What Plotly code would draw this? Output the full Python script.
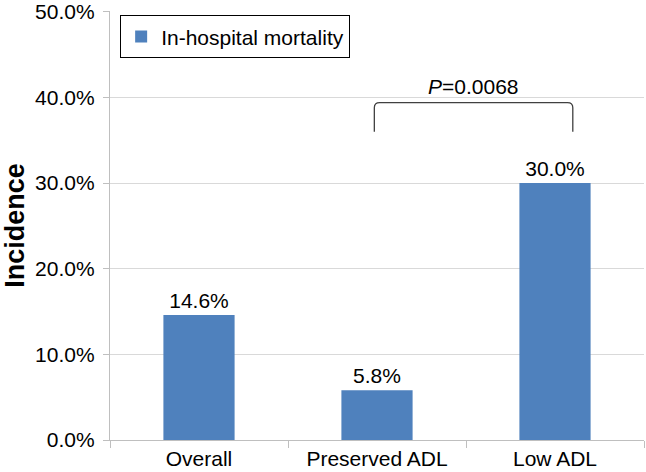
import plotly.graph_objects as go

categories = ["Overall", "Preserved ADL", "Low ADL"]
mortality = [14.6, 5.8, 30.0]
y_ticks = [0, 10, 20, 30, 40, 50]
y_tick_labels = [f"{v:.1f}%" for v in y_ticks]
series_name = "In-hospital mortality"
p_label = "<i>P</i>=0.0068"

FONT = "Liberation Sans, Arial, sans-serif"
BAR = "#4F81BD"
FS = 21

fig = go.Figure()
fig.add_trace(go.Bar(
    x=categories, y=mortality, name=series_name,
    marker=dict(color=BAR, line=dict(width=0)),
    texttemplate="%{y:.1f}%", textposition="outside",
    textfont=dict(size=FS, color="#000", family=FONT),
    cliponaxis=False, showlegend=True,
))

# significance bracket between Preserved ADL and Low ADL
bx0, bx1 = 0.985, 2.10
by_low, by_top = 36.0, 39.4
r = 0.03
fig.add_shape(type="path", xref="x", yref="y",
              path=(f"M {bx0} {by_low} L {bx0} {by_top-0.6} Q {bx0} {by_top} {bx0+r} {by_top} "
                    f"L {bx1-r} {by_top} Q {bx1} {by_top} {bx1} {by_top-0.6} L {bx1} {by_low}"),
              line=dict(color="#404040", width=1.3))
fig.add_annotation(x=(bx0 + bx1) / 2, y=by_top, xref="x", yref="y", text=p_label,
                   showarrow=False, yanchor="bottom", yshift=3,
                   font=dict(size=FS, color="#000", family=FONT))

fig.update_layout(
    width=646, height=472,
    margin=dict(l=110, r=2, t=11, b=32, autoexpand=False),
    paper_bgcolor="white", plot_bgcolor="white",
    bargap=0.6,
    font=dict(family=FONT, size=FS, color="#000"),
    showlegend=True,
    legend=dict(x=0.019, y=0.99, xanchor="left", yanchor="top",
                bordercolor="#000", borderwidth=1, bgcolor="white",
                font=dict(size=FS, color="#000", family=FONT),
                itemwidth=30, tracegroupgap=0),
    xaxis=dict(showline=True, linecolor="#BFBFBF", linewidth=1.3,
               ticks="outside", tickson="boundaries", ticklen=7, tickcolor="#BFBFBF",
               tickfont=dict(size=FS, color="#000", family=FONT), showgrid=False,
               automargin=False),
    yaxis=dict(range=[0, 50.1], tickvals=y_ticks, ticktext=y_tick_labels,
               showline=True, linecolor="#BFBFBF", linewidth=1.3,
               ticks="outside", ticklen=6, tickcolor="#BFBFBF",
               showgrid=True, gridcolor="#D9D9D9", gridwidth=1.3,
               zeroline=False, automargin=False, ticklabelstandoff=4,
               ticklabeloverflow="allow",
               tickfont=dict(size=FS, color="#000", family=FONT),
               title=dict(text="<b>Incidence</b>", font=dict(size=27, color="#000", family=FONT),
                          standoff=10)),
)

fig.write_html("out.html", config={"displayModeBar": False},
               post_script="document.body.style.margin='0';document.body.style.overflow='hidden';")
